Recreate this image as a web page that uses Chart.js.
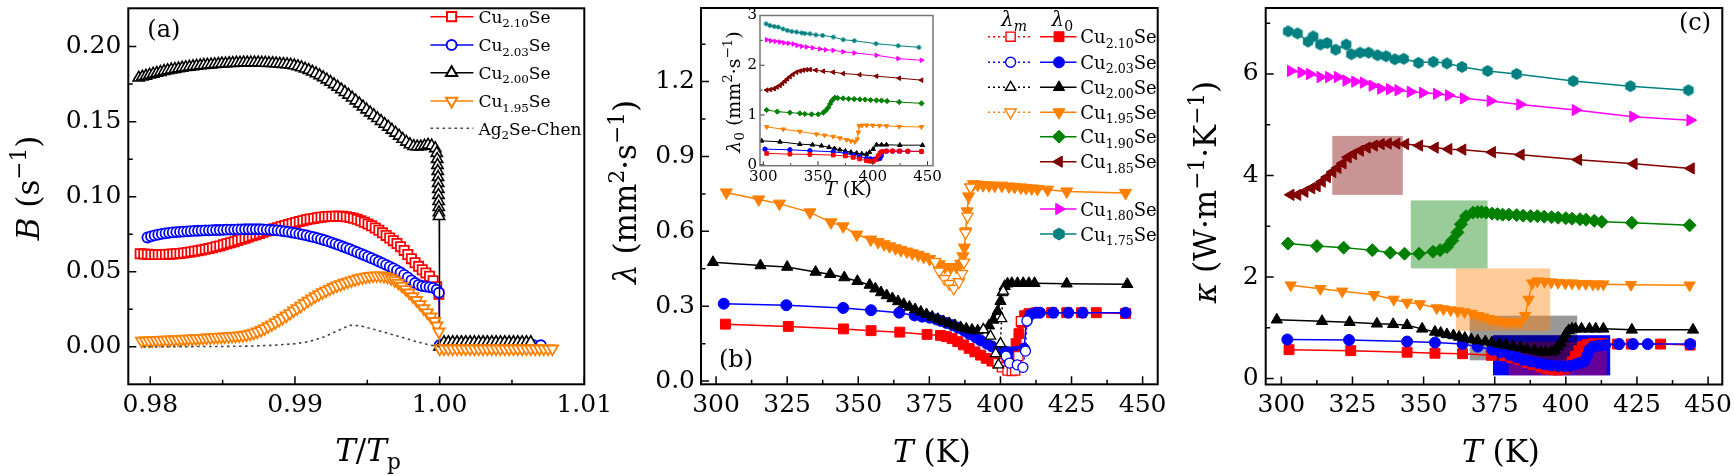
<!DOCTYPE html>
<html><head><meta charset="utf-8">
<script src="https://cdn.jsdelivr.net/npm/chart.js@4.4.1/dist/chart.umd.min.js"></script>
<style>
html,body{margin:0;padding:0;background:#fff;width:1734px;height:476px;overflow:hidden}
canvas{position:absolute;top:0}
</style></head><body>
<canvas id="cA" width="640" height="476" style="left:0px"></canvas>
<canvas id="cB" width="600" height="476" style="left:600px"></canvas>
<canvas id="cI" width="260" height="205" style="left:700px"></canvas>
<canvas id="cC" width="554" height="476" style="left:1180px"></canvas>
<script>
// ===================== DATA =====================
// Panel (a): B (s^-1) vs T/Tp
const aRedX = [0.9793,0.97955,0.9798,0.98005,0.9803,0.98055,0.9808,0.98105,0.9813,0.98155,0.9818,0.98205,0.9823,0.98255,0.9828,0.98305,0.9833,0.98355,0.9838,0.98405,0.9843,0.98455,0.9848,0.98505,0.9853,0.98555,0.9858,0.98605,0.9863,0.98655,0.9868,0.98705,0.9873,0.98755,0.9878,0.98805,0.9883,0.98855,0.9888,0.98905,0.9893,0.98955,0.9898,0.99005,0.9903,0.99055,0.9908,0.99105,0.9913,0.99155,0.9918,0.99205,0.9923,0.99255,0.9928,0.99305,0.9933,0.99355,0.9938,0.99405,0.9943,0.99455,0.9948,0.99505,0.9953,0.99555,0.9958,0.99605,0.9963,0.99655,0.9968,0.99705,0.9973,0.99755,0.9978,0.99805,0.9983,0.99855,0.9988,0.99905,0.9993,0.99955,0.9998,0.99995,1.0000];
const aRedY = [0.0620,0.0618,0.0617,0.0615,0.0614,0.0614,0.0614,0.0615,0.0617,0.0618,0.0620,0.0622,0.0625,0.0628,0.0632,0.0636,0.0640,0.0644,0.0649,0.0654,0.0660,0.0666,0.0672,0.0679,0.0686,0.0693,0.0700,0.0708,0.0716,0.0723,0.0731,0.0739,0.0747,0.0755,0.0763,0.0771,0.0778,0.0786,0.0793,0.0801,0.0808,0.0815,0.0821,0.0828,0.0834,0.0840,0.0846,0.0851,0.0855,0.0859,0.0863,0.0866,0.0868,0.0869,0.0870,0.0870,0.0869,0.0866,0.0862,0.0856,0.0849,0.0840,0.0830,0.0818,0.0806,0.0791,0.0776,0.0759,0.0742,0.0725,0.0707,0.0688,0.0667,0.0642,0.0615,0.0587,0.0560,0.0536,0.0513,0.0492,0.0470,0.0440,0.0400,0.0350,0.0000];
const aBlueX = [0.9798,0.98005,0.9803,0.98055,0.9808,0.98105,0.9813,0.98155,0.9818,0.98205,0.9823,0.98255,0.9828,0.98305,0.9833,0.98355,0.9838,0.98405,0.9843,0.98455,0.9848,0.98505,0.9853,0.98555,0.9858,0.98605,0.9863,0.98655,0.9868,0.98705,0.9873,0.98755,0.9878,0.98805,0.9883,0.98855,0.9888,0.98905,0.9893,0.98955,0.9898,0.99005,0.9903,0.99055,0.9908,0.99105,0.9913,0.99155,0.9918,0.99205,0.9923,0.99255,0.9928,0.99305,0.9933,0.99355,0.9938,0.99405,0.9943,0.99455,0.9948,0.99505,0.9953,0.99555,0.9958,0.99605,0.9963,0.99655,0.9968,0.99705,0.9973,0.99755,0.9978,0.99805,0.9983,0.99855,0.9988,0.99905,0.9993,0.99955,0.9998,0.99995,1.0000,1.0005,1.0010,1.0015,1.0020,1.0025,1.0030,1.0035,1.0040,1.0045,1.0050,1.0055,1.0060,1.0065,1.0070];
const aBlueY = [0.0728,0.0736,0.0742,0.0747,0.0752,0.0756,0.0759,0.0762,0.0764,0.0766,0.0767,0.0769,0.0770,0.0772,0.0773,0.0774,0.0775,0.0776,0.0777,0.0778,0.0778,0.0779,0.0780,0.0781,0.0781,0.0782,0.0782,0.0783,0.0783,0.0783,0.0783,0.0783,0.0782,0.0781,0.0779,0.0777,0.0775,0.0772,0.0769,0.0765,0.0761,0.0757,0.0752,0.0747,0.0742,0.0736,0.0730,0.0724,0.0717,0.0710,0.0702,0.0694,0.0686,0.0677,0.0668,0.0659,0.0650,0.0640,0.0630,0.0620,0.0610,0.0600,0.0590,0.0579,0.0568,0.0557,0.0546,0.0534,0.0522,0.0509,0.0495,0.0479,0.0462,0.0443,0.0425,0.0413,0.0405,0.0401,0.0398,0.0392,0.0380,0.0360,0.0010,0.0010,0.0010,0.0010,0.0010,0.0010,0.0010,0.0010,0.0010,0.0010,0.0010,0.0010,0.0010,0.0010,0.0010];
const aBlackX = [0.9792,0.97945,0.9797,0.97995,0.9802,0.98045,0.9807,0.98095,0.9812,0.98145,0.9817,0.98195,0.9822,0.98245,0.9827,0.98295,0.9832,0.98345,0.9837,0.98395,0.9842,0.98445,0.9847,0.98495,0.9852,0.98545,0.9857,0.98595,0.9862,0.98645,0.9867,0.98695,0.9872,0.98745,0.9877,0.98795,0.9882,0.98845,0.9887,0.98895,0.9892,0.98945,0.9897,0.98995,0.9902,0.99045,0.9907,0.99095,0.9912,0.99145,0.9917,0.99195,0.9922,0.99245,0.9927,0.99295,0.9932,0.99345,0.9937,0.99395,0.9942,0.99445,0.9947,0.99495,0.9952,0.99545,0.9957,0.99595,0.9962,0.99645,0.9967,0.99695,0.9972,0.99745,0.9977,0.99795,0.9982,0.99845,0.9987,0.99895,0.9992,0.99945,0.9997,0.99980,0.99983,0.99985,0.99987,0.99989,0.99990,0.99991,0.99992,0.99993,0.99994,0.99995,0.99996,1.0000,1.0003,1.0006,1.0009,1.0012,1.0015,1.0018,1.0021,1.0024,1.0027,1.0030,1.0033,1.0036,1.0039,1.0042,1.0045,1.0048,1.0051,1.0054,1.0057,1.0060,1.0063];
const aBlackY = [0.1792,0.1799,0.1805,0.1812,0.1818,0.1824,0.1830,0.1836,0.1841,0.1846,0.1850,0.1854,0.1858,0.1862,0.1865,0.1868,0.1871,0.1874,0.1876,0.1878,0.1880,0.1882,0.1884,0.1886,0.1887,0.1889,0.1890,0.1891,0.1892,0.1893,0.1893,0.1893,0.1893,0.1893,0.1892,0.1891,0.1890,0.1889,0.1887,0.1885,0.1883,0.1881,0.1878,0.1874,0.1868,0.1861,0.1852,0.1843,0.1832,0.1821,0.1808,0.1795,0.1780,0.1764,0.1748,0.1731,0.1714,0.1696,0.1678,0.1659,0.1640,0.1620,0.1600,0.1580,0.1560,0.1541,0.1522,0.1503,0.1484,0.1465,0.1445,0.1425,0.1405,0.1384,0.1365,0.1348,0.1336,0.1333,0.1334,0.1339,0.1345,0.1340,0.1322,0.1290,0.1250,0.1210,0.1170,0.1130,0.1090,0.1050,0.1010,0.0970,0.0930,0.0895,0.0870,0.0000,0.0030,0.0030,0.0030,0.0030,0.0030,0.0030,0.0030,0.0030,0.0030,0.0030,0.0030,0.0030,0.0030,0.0030,0.0030,0.0030,0.0030,0.0030,0.0030,0.0030,0.0030];
const aOrangeX = [0.9794,0.97965,0.9799,0.98015,0.9804,0.98065,0.9809,0.98115,0.9814,0.98165,0.9819,0.98215,0.9824,0.98265,0.9829,0.98315,0.9834,0.98365,0.9839,0.98415,0.9844,0.98465,0.9849,0.98515,0.9854,0.98565,0.9859,0.98615,0.9864,0.98665,0.9869,0.98715,0.9874,0.98765,0.9879,0.98815,0.9884,0.98865,0.9889,0.98915,0.9894,0.98965,0.9899,0.99015,0.9904,0.99065,0.9909,0.99115,0.9914,0.99165,0.9919,0.99215,0.9924,0.99265,0.9929,0.99315,0.9934,0.99365,0.9939,0.99415,0.9944,0.99465,0.9949,0.99515,0.9954,0.99565,0.9959,0.99615,0.9964,0.99665,0.9969,0.99715,0.9974,0.99765,0.9979,0.99815,0.9984,0.99865,0.9989,0.99915,0.9994,0.99965,0.9998,0.99995,1.0000,1.0003,1.0006,1.0009,1.0012,1.0015,1.0018,1.0021,1.0024,1.0027,1.0030,1.0033,1.0036,1.0039,1.0042,1.0045,1.0048,1.0051,1.0054,1.0057,1.0060,1.0063,1.0066,1.0069,1.0072,1.0075,1.0078];
const aOrangeY = [0.0039,0.0040,0.0041,0.0042,0.0043,0.0044,0.0045,0.0046,0.0047,0.0048,0.0049,0.0050,0.0052,0.0053,0.0054,0.0055,0.0057,0.0058,0.0060,0.0061,0.0063,0.0064,0.0066,0.0067,0.0069,0.0070,0.0072,0.0074,0.0076,0.0080,0.0085,0.0092,0.0100,0.0110,0.0122,0.0135,0.0148,0.0162,0.0177,0.0192,0.0207,0.0223,0.0240,0.0256,0.0272,0.0289,0.0305,0.0320,0.0335,0.0349,0.0362,0.0374,0.0386,0.0397,0.0407,0.0416,0.0425,0.0433,0.0441,0.0448,0.0455,0.0461,0.0466,0.0470,0.0473,0.0474,0.0474,0.0471,0.0465,0.0455,0.0442,0.0425,0.0405,0.0383,0.0360,0.0335,0.0310,0.0283,0.0255,0.0228,0.0200,0.0170,0.0140,0.0100,-0.0013,-0.0013,-0.0013,-0.0013,-0.0013,-0.0013,-0.0013,-0.0013,-0.0013,-0.0013,-0.0013,-0.0013,-0.0013,-0.0013,-0.0013,-0.0013,-0.0013,-0.0013,-0.0013,-0.0013,-0.0013,-0.0013,-0.0013,-0.0013,-0.0013,-0.0013,-0.0013];
const aChenX = [0.9795,0.9820,0.9850,0.9870,0.9885,0.9900,0.9910,0.9920,0.9930,0.9938,0.9945,0.9955,0.9965,0.9975,0.9985,0.9993,1.0000];
const aChenY = [0.0000,0.0001,0.0002,0.0005,0.0010,0.0020,0.0035,0.0065,0.0110,0.0143,0.0140,0.0115,0.0088,0.0060,0.0032,0.0012,0.0000];
const aXTicks = [0.98,0.99,1.00,1.01];
const aYTicks = [0.00,0.05,0.10,0.15,0.20];

// Panel (b): lambda (mm^2 s^-1) vs T (K); lambda0 filled, lambda_m open
const bRedX = [303.3,325.4,344.8,354.5,364.6,374.2,378.9,381,383,385,387,389,391,393,395,397,399,401,402.5,403.5,404.5,405.5,406.5,407.5,408.5,410,412.6,418,423.3,428.5,433.7,444];
const bRedY = [0.228,0.219,0.209,0.202,0.196,0.187,0.183,0.178,0.170,0.158,0.145,0.131,0.117,0.104,0.091,0.080,0.072,0.066,0.070,0.085,0.115,0.150,0.190,0.235,0.262,0.270,0.274,0.274,0.274,0.274,0.274,0.271];
const bRedMX = [399,400.5,402.5,404,405.2,406.3,407.2];
const bRedMY = [0.072,0.055,0.042,0.040,0.042,0.100,0.240];
const bBlueX = [302.7,324.7,344.7,354.5,364.4,369.8,372.5,375.1,377.5,379.1,381,383.2,385,387.2,389,391.2,393,395.2,397,399.2,401,402.5,404,405.5,407,408.3,409.2,410.6,412.6,413.9,418.6,423.9,428.9,444];
const bBlueY = [0.310,0.304,0.293,0.284,0.274,0.263,0.258,0.254,0.247,0.241,0.233,0.224,0.214,0.202,0.189,0.176,0.163,0.150,0.139,0.128,0.120,0.116,0.114,0.116,0.122,0.130,0.241,0.267,0.274,0.274,0.274,0.274,0.274,0.274];
const bBlueMX = [402,403.2,405.9,407.9,408.8,409.3];
const bBlueMY = [0.100,0.072,0.065,0.055,0.120,0.241];
const bBlackX = [298.9,315.6,325,335,340.1,345.1,349.7,354,356,358,360,362,364,366,368,370,372,374,376,378,380,382,384,386,388,390,392,394,396,397.5,399,400,400.7,401.5,402.5,404,406,408,410,412,423.3,444.6];
const bBlackY = [0.476,0.463,0.457,0.437,0.428,0.415,0.400,0.385,0.370,0.355,0.343,0.331,0.319,0.308,0.297,0.287,0.277,0.267,0.257,0.248,0.239,0.231,0.223,0.215,0.209,0.205,0.202,0.206,0.222,0.245,0.280,0.320,0.355,0.380,0.390,0.392,0.392,0.392,0.392,0.392,0.390,0.388];
const bBlackMX = [394,396.5,398.3,399.3,400.0,400.4,401.0];
const bBlackMY = [0.206,0.180,0.110,0.065,0.150,0.250,0.360];
const bOrangeX = [303.6,315,322.3,333,340.4,344.7,349.5,354.4,357,359.1,361,363.1,365,367.1,369,371.1,373,375.1,377,378.5,380.5,382.5,384.5,386,386.8,387.3,387.8,388.3,388.8,389.5,390.5,392,393.9,396,398,400.5,403,405,407.2,409,411,413,416.6,423.3,444];
const bOrangeY = [0.756,0.728,0.711,0.676,0.636,0.620,0.587,0.567,0.557,0.548,0.540,0.532,0.525,0.519,0.512,0.506,0.498,0.489,0.478,0.468,0.457,0.455,0.457,0.470,0.500,0.535,0.600,0.680,0.740,0.776,0.789,0.787,0.785,0.784,0.783,0.783,0.780,0.778,0.776,0.774,0.772,0.770,0.767,0.760,0.754];
const bOrangeMX = [377,378.5,380.3,382,383.6,385.4,386.5,387.2,387.7,388.4,389.5];
const bOrangeMY = [0.478,0.440,0.410,0.390,0.371,0.397,0.430,0.476,0.594,0.660,0.776];
const bXTicks = [300,325,350,375,400,425,450];
const bYTicks = [0.0,0.3,0.6,0.9,1.2];

// Inset of (b): lambda0 for all compositions
const iTealX = [302.5,306,310,313.7,318,321.9,326,330.4,335,338,342.6,348,354.2,363.9,373,383.1,402.9,423.2,442.1];
const iTealY = [2.833,2.80,2.78,2.767,2.73,2.70,2.68,2.667,2.65,2.64,2.633,2.61,2.60,2.567,2.513,2.493,2.433,2.393,2.36];
const iMagX = [303.1,307,311,315.2,319,323,327.4,331,335,339.6,345,351.7,357,363.9,373,383.1,403.4,423.2,444.5];
const iMagY = [2.513,2.49,2.48,2.467,2.45,2.44,2.427,2.40,2.38,2.367,2.35,2.327,2.31,2.30,2.27,2.247,2.20,2.133,2.10];
const iBrnX = [303.1,306.5,309.8,312.5,315.2,317.5,319.8,322,324.3,327,330.4,333.5,336.5,339.5,342.6,348,354.8,363.9,373,388,403.4,424.1,444.5];
const iBrnY = [1.50,1.51,1.527,1.56,1.593,1.635,1.68,1.725,1.767,1.815,1.86,1.885,1.90,1.91,1.913,1.90,1.88,1.86,1.833,1.81,1.78,1.74,1.70];
const iGrnX = [303.1,312.8,324.3,333.4,338,344.1,350.2,354.8,357,359.3,361,362.4,364,365.4,368,373,378,383,388.2,393,398,403.4,408,413,424.1,444.5];
const iGrnY = [1.10,1.067,1.047,1.033,1.02,1.013,1.013,1.047,1.09,1.147,1.22,1.28,1.32,1.347,1.34,1.333,1.325,1.32,1.313,1.31,1.30,1.293,1.29,1.28,1.26,1.233];
const iOrgX = [303.1,318.2,333.4,348.6,356,363.9,370,376,380,383.6,385.8,386.8,387.6,390,394.3,400,406,412.5,424.1,444.5];
const iOrgY = [0.76,0.713,0.667,0.613,0.59,0.567,0.535,0.50,0.475,0.46,0.513,0.65,0.78,0.79,0.793,0.79,0.785,0.78,0.767,0.76];
const iBlkX = [298.5,315.2,333.4,345,353.2,360,365,369.9,375,380,385.2,390,394.3,397,400.4,403.4,408,412.5,424.7,445.4];
const iBlkY = [0.48,0.46,0.413,0.40,0.38,0.35,0.325,0.30,0.275,0.252,0.233,0.22,0.213,0.25,0.313,0.40,0.40,0.40,0.393,0.393];
const iBluX = [301.6,324.3,342.6,363.9,375,382.1,388,394.3,398,401.9,404.5,406.5,407.8,408.9,412.5,418,424.7,432,444.5];
const iBluY = [0.313,0.30,0.28,0.26,0.23,0.193,0.16,0.127,0.118,0.113,0.115,0.127,0.18,0.26,0.273,0.273,0.273,0.27,0.267];
const iRedX = [303.1,324.3,342.6,363.9,375,382.1,388,394.3,397.5,400.4,403,404.9,406.5,407.9,412.5,418,424,432,444.5];
const iRedY = [0.227,0.213,0.207,0.193,0.175,0.147,0.115,0.08,0.07,0.067,0.10,0.18,0.23,0.26,0.273,0.273,0.273,0.27,0.267];
const iXTicks = [300,350,400,450];
const iYTicks = [0,1,2,3];

// Panel (c): kappa (W m^-1 K^-1) vs T (K)
const cTealX = [302.4,305.7,309.4,311.2,313.7,316.1,319.1,322.8,324.6,327.7,330.7,333.8,336.8,339.9,343.0,348.2,353.4,358.2,363.5,372.5,382.7,402.6,422.7,443.1];
const cTealY = [6.84,6.80,6.64,6.74,6.58,6.61,6.48,6.58,6.39,6.42,6.42,6.37,6.35,6.29,6.30,6.22,6.24,6.21,6.14,6.06,6.00,5.86,5.76,5.68];
const cMagX = [303.3,307.0,310.0,313.7,316.7,319.8,322.8,325.9,328.9,332.0,335.0,338.1,341.1,345.4,349.7,354.6,358.8,364.1,373.5,383.9,403.4,423.6,443.7];
const cMagY = [6.06,6.03,6.00,5.94,5.94,5.94,5.87,5.85,5.83,5.77,5.71,5.70,5.68,5.65,5.63,5.61,5.58,5.52,5.47,5.40,5.29,5.16,5.09];
const cBrnX = [303.3,305.7,308.2,310.6,312.5,314.3,316.1,318.0,319.8,321.6,323.4,325.3,327.7,330.1,332.6,335.0,337.5,340.5,343.6,348.5,354.0,358.8,363.7,374.1,384.2,404.4,423.9,444.0];
const cBrnY = [3.62,3.62,3.68,3.75,3.79,3.88,3.97,4.07,4.15,4.24,4.36,4.42,4.49,4.55,4.59,4.62,4.63,4.63,4.62,4.59,4.55,4.52,4.51,4.46,4.41,4.31,4.23,4.14];
const cGrnX = [302.3,312.5,321.9,332.0,338.3,343.3,348.4,353.3,355.8,358.2,360.1,361.9,363.1,364.9,367.4,369,370.4,372,374.1,376,377.8,380,382.7,385,387.6,390,392.4,395,397.3,400,402.2,405,407.1,410,412.6,423.2,443.5];
const cGrnY = [2.66,2.61,2.58,2.53,2.48,2.46,2.46,2.50,2.53,2.59,2.72,2.88,3.04,3.20,3.27,3.28,3.28,3.27,3.25,3.24,3.23,3.23,3.22,3.21,3.20,3.20,3.19,3.18,3.17,3.16,3.15,3.14,3.13,3.11,3.09,3.07,3.02];
const cOrgX = [303.3,313.7,321.4,332.6,339.5,344.2,348.7,354.6,357,359.5,362,364.4,367,369.2,371,372.9,374.8,376.6,378.4,380.2,382,383.9,385.7,386.9,388.2,390.0,392.5,394.9,397.3,399.8,402.2,404.6,407,409.5,411.3,413.2,422.9,443.5];
const cOrgY = [1.84,1.77,1.72,1.65,1.56,1.50,1.47,1.39,1.37,1.35,1.33,1.31,1.28,1.24,1.21,1.18,1.15,1.13,1.12,1.11,1.11,1.11,1.24,1.56,1.88,1.92,1.91,1.90,1.89,1.88,1.88,1.87,1.87,1.86,1.86,1.86,1.85,1.84];
const cBlkX = [298.4,314.3,324.0,333.6,339.3,344.2,349.5,354.0,356,358.2,360.5,362.5,364.5,366.8,369,371.7,374,376.6,379,381.4,384,386.3,389,391.2,393,394.9,396.2,397.3,398.2,399.1,400,401.0,402.2,403.4,405.5,408.3,410.5,413.2,423.2,444.7];
const cBlkY = [1.16,1.13,1.11,1.08,1.07,1.05,0.98,0.92,0.90,0.87,0.85,0.82,0.80,0.77,0.75,0.73,0.71,0.68,0.66,0.63,0.61,0.58,0.555,0.53,0.525,0.53,0.56,0.63,0.70,0.79,0.88,0.95,0.98,0.98,0.98,0.98,0.98,0.98,0.96,0.96];
const cBluX = [302.1,323.8,344.2,354.0,363.7,369,374.1,377,380.2,382.7,385.1,387.5,390.0,392.5,394.9,397.3,399.8,401.6,403.4,405,406.5,407.5,408.3,409.5,411.5,413.8,418.7,423.6,428.8,443.7];
const cBluY = [0.77,0.76,0.73,0.71,0.68,0.63,0.57,0.52,0.47,0.42,0.37,0.34,0.31,0.28,0.26,0.25,0.24,0.25,0.28,0.31,0.34,0.45,0.57,0.63,0.65,0.66,0.68,0.68,0.68,0.68];
const cRedX = [302.7,324.4,344.2,354.0,363.7,373.8,378.3,381,383.9,386.3,388.7,391.2,393.6,395.5,397.3,399.2,401.0,402.2,403.4,404.6,405.9,407.5,409.5,413,418.1,423,433.3,443.7];
const cRedY = [0.57,0.55,0.52,0.50,0.49,0.46,0.45,0.41,0.37,0.32,0.28,0.23,0.19,0.175,0.17,0.19,0.24,0.33,0.44,0.55,0.63,0.67,0.69,0.69,0.68,0.68,0.68,0.66];
// highlighted transition ranges in (c), data units (T from..to, kappa from..to)
const cBoxT0 = [374.4,379.9,366.2,361.3,345.5,317.9];
const cBoxT1 = [415.6,414.4,404.0,394.5,372.5,342.7];
const cBoxK0 = [0.064,0.064,0.36,0.94,2.17,3.62];
const cBoxK1 = [0.855,0.725,1.24,2.17,3.51,4.78];
const cXTicks = [300,325,350,375,400,425,450];
const cYTicks = [0,2,4,6];

// Legend labels
const compB = ['2.10','2.03','2.00','1.95','1.90','1.85','1.80','1.75'];

// ===================== STYLE / HELPERS =====================
const FONT = 'DejaVu Serif';
Chart.defaults.font.family = FONT;
Chart.defaults.color = '#000';
const COL = {red:'#ff0000', blue:'#0000ff', black:'#000000', orange:'#ff8000', green:'#008000', brown:'#800000', magenta:'#ff00ff', teal:'#008080', chen:'#444444'};
const BOXCOL = ['rgb(0,0,255)','rgba(255,0,0,0.4)','rgba(0,0,0,0.4)','rgba(255,128,0,0.4)','rgba(0,128,0,0.4)','rgba(128,0,0,0.42)'];

function zip(xs, ys){ const n=Math.min(xs.length, ys.length), o=[]; for(let i=0;i<n;i++) o.push({x:xs[i], y:ys[i]}); return o; }
function hexImg(r, color){
  const s = Math.ceil(2*r+2), c = document.createElement('canvas'); c.width=c.height=s;
  const g = c.getContext('2d'); g.fillStyle=color; g.beginPath();
  for(let k=0;k<6;k++){ const a=-Math.PI/2+k*Math.PI/3; const px=s/2+r*Math.cos(a), py=s/2+r*Math.sin(a); k?g.lineTo(px,py):g.moveTo(px,py); }
  g.closePath(); g.fill(); return c;
}
const PS = {rect:['rect',0], circle:['circle',0], tu:['triangle',0], td:['triangle',180], tl:['triangle',270], tr:['triangle',90], diamond:['rectRot',0]};
function series(xs, ys, s){
  let ps, rot=0;
  if (s.mk==='hex') ps = hexImg(s.r, s.color); else [ps, rot] = PS[s.mk];
  let radii = s.r;
  if (s.noMarkLast) { radii = zip(xs,ys).map((_,i,arr)=> i===arr.length-1 ? 0 : s.r); }
  return { data: zip(xs, ys), borderColor: s.color, borderWidth: s.lw, borderDash: s.dash||[],
    pointStyle: ps, rotation: rot, pointRadius: radii, pointHoverRadius: s.r,
    pointBorderWidth: s.open ? s.pw : 1, pointBorderColor: s.color,
    pointBackgroundColor: s.open ? '#ffffff' : s.color, fill:false, tension:0, showLine: s.line!==false };
}
function drawMarker(ctx, style, x, y, r, fill, stroke, lw){
  ctx.save(); ctx.beginPath(); ctx.setLineDash([]);
  const tri = rot => { let a=rot*Math.PI/180; for(let k=0;k<3;k++){ const px=x+Math.sin(a)*r, py=y-Math.cos(a)*r; k?ctx.lineTo(px,py):ctx.moveTo(px,py); a+=2*Math.PI/3; } ctx.closePath(); };
  switch(style){
    case 'rect': { const s=r*Math.SQRT1_2; ctx.rect(x-s,y-s,2*s,2*s); break; }
    case 'circle': ctx.arc(x,y,r,0,2*Math.PI); break;
    case 'tu': tri(0); break; case 'td': tri(180); break; case 'tl': tri(270); break; case 'tr': tri(90); break;
    case 'diamond': ctx.moveTo(x,y-r); ctx.lineTo(x+r,y); ctx.lineTo(x,y+r); ctx.lineTo(x-r,y); ctx.closePath(); break;
    case 'hex': for(let k=0;k<6;k++){ const a=-Math.PI/2+k*Math.PI/3; const px=x+r*Math.cos(a), py=y+r*Math.sin(a); k?ctx.lineTo(px,py):ctx.moveTo(px,py);} ctx.closePath(); break;
  }
  if(fill){ ctx.fillStyle=fill; ctx.fill(); }
  if(stroke){ ctx.strokeStyle=stroke; ctx.lineWidth=lw; ctx.stroke(); }
  ctx.restore();
}
// rich text: segs = [[text, style]], style in r | i | sup | sub | isub
function rich(ctx, segs, x, y, size, rotate, align){
  ctx.save(); ctx.translate(x, y); if (rotate) ctx.rotate(-Math.PI/2);
  const fontFor = s => { const small = s.includes('sup')||s.includes('sub'); return (s.indexOf('i')===0?'italic ':'') + (small? size*0.7 : size) + 'px "' + FONT + '"'; };
  let w = 0; for (const [t,s] of segs){ ctx.font = fontFor(s); w += ctx.measureText(t).width; }
  let cx = align==='left' ? 0 : align==='right' ? -w : -w/2;
  ctx.textBaseline='alphabetic'; ctx.textAlign='left'; ctx.fillStyle='#000';
  for (const [t,s] of segs){ ctx.font = fontFor(s); const dy = s.includes('sup') ? -size*0.40 : s.includes('sub') ? size*0.25 : 0; ctx.fillText(t, cx, dy); cx += ctx.measureText(t).width; }
  ctx.restore();
}
function decoPlugin(cfg){
  return { id:'deco',
    beforeDraw(chart){ if (cfg.bg){ const a=chart.chartArea, c=chart.ctx; c.save(); c.fillStyle='#fff'; c.fillRect(a.left,a.top,a.right-a.left,a.bottom-a.top); c.restore(); } },
    beforeDatasetsDraw(chart){ if (cfg.before) cfg.before(chart); },
    afterDraw(chart){
      const ctx=chart.ctx, a=chart.chartArea, x=chart.scales.x, y=chart.scales.y;
      ctx.save(); ctx.setLineDash([]);
      ctx.strokeStyle=cfg.tickColor; ctx.lineWidth=cfg.tickW; ctx.beginPath();
      for (const v of cfg.xMaj){ const p=x.getPixelForValue(v); ctx.moveTo(p,a.bottom); ctx.lineTo(p,a.bottom-cfg.maj); }
      for (const v of cfg.xMin){ const p=x.getPixelForValue(v); ctx.moveTo(p,a.bottom); ctx.lineTo(p,a.bottom-cfg.min); }
      for (const v of cfg.yMaj){ const p=y.getPixelForValue(v); ctx.moveTo(a.left,p); ctx.lineTo(a.left+cfg.maj,p); }
      for (const v of cfg.yMin){ const p=y.getPixelForValue(v); ctx.moveTo(a.left,p); ctx.lineTo(a.left+cfg.min,p); }
      ctx.stroke();
      ctx.strokeStyle=cfg.frameColor; ctx.lineWidth=cfg.frameW;
      ctx.strokeRect(a.left,a.top,a.right-a.left,a.bottom-a.top);
      ctx.restore();
      if (cfg.after) cfg.after(chart);
    } };
}
function makeChart(id, W, H, area, xr, yr, xTicks, yTicks, xFmt, yFmt, tickSize, xPad, yPad, datasets, deco){
  const zeroPad = s => { s.paddingLeft=0; s.paddingRight=0; s.paddingTop=0; s.paddingBottom=0; };
  return new Chart(document.getElementById(id), {
    type:'line', data:{datasets},
    options:{ responsive:false, animation:false, devicePixelRatio:1, events:[],
      layout:{padding:{left:0, top:area.top, right:W-area.right, bottom:0}},
      plugins:{legend:{display:false}, tooltip:{enabled:false}},
      scales:{
        x:{ type:'linear', position:'bottom', min:xr[0], max:xr[1],
            afterBuildTicks: s => { s.ticks = xTicks.map(v=>({value:v})); },
            ticks:{ callback: v => xFmt(v), font:{family:FONT, size:tickSize}, color:'#000', padding:xPad, maxRotation:0, minRotation:0, autoSkip:false },
            grid:{display:false, drawTicks:false}, border:{display:false},
            afterFit: s => { s.height = H-area.bottom; zeroPad(s); } },
        y:{ type:'linear', position:'left', min:yr[0], max:yr[1],
            afterBuildTicks: s => { s.ticks = yTicks.map(v=>({value:v})); },
            ticks:{ callback: v => yFmt(v), font:{family:FONT, size:tickSize}, color:'#000', padding:yPad, autoSkip:false },
            grid:{display:false, drawTicks:false}, border:{display:false},
            afterFit: s => { s.width = area.left; zeroPad(s); } }
      } },
    plugins:[decoPlugin(deco)]
  });
}
function cuLabel(comp){ return [['Cu','r'],[comp,'sub'],['Se','r']]; }

// ===================== PANEL (a) =====================
(function(){
  const OX=0, W=640, H=476, area={left:128.3, right:584.3, top:1, bottom:384.3};
  const A = {red:{color:COL.red,mk:'rect',r:6.5,open:true,pw:1.8,lw:1.2,noMarkLast:true},
             blue:{color:COL.blue,mk:'circle',r:5,open:true,pw:1.8,lw:1.2},
             black:{color:COL.black,mk:'tu',r:6.5,open:true,pw:1.6,lw:1.2},
             orange:{color:COL.orange,mk:'td',r:6.5,open:true,pw:1.8,lw:1.2}};
  const ds = [
    Object.assign(series(aChenX,aChenY,{color:COL.chen,mk:'circle',r:0,lw:1.6,dash:[2.5,3.5]}), {pointRadius:0}),
    series(aOrangeX,aOrangeY,A.orange),
    series(aBlackX,aBlackY,A.black),
    series(aBlueX,aBlueY,A.blue),
    series(aRedX,aRedY,A.red)
  ];
  const legend = [[A.red,'2.10'],[A.blue,'2.03'],[A.black,'2.00'],[A.orange,'1.95']];
  const rowsY = [16.7,45,72.7,101,128.3];
  const LF = 17;
  makeChart('cA', W, H, area, [0.97848,1.01], [-0.025,0.2255], aXTicks, aYTicks, v=>v.toFixed(2), v=>v.toFixed(2), 25, 6, 7, ds, {
    tickColor:'#000', tickW:1.5, frameColor:'#000', frameW:2, maj:8, min:4.5,
    xMaj:aXTicks, xMin:[0.985,0.995,1.005], yMaj:aYTicks, yMin:[0.025,0.075,0.125,0.175],
    after(chart){
      const ctx=chart.ctx;
      legend.forEach(([st,comp],i)=>{
        const yy=rowsY[i];
        ctx.save(); ctx.strokeStyle=st.color; ctx.lineWidth=1.5; ctx.beginPath(); ctx.moveTo(430.5-OX,yy); ctx.lineTo(473.4-OX,yy); ctx.stroke(); ctx.restore();
        drawMarker(ctx, st.mk, 451.6-OX, yy, st.r, '#fff', st.color, 2);
        rich(ctx, cuLabel(comp), 478.4-OX, yy+6.4, LF, false, 'left');
      });
      const yy=rowsY[4];
      ctx.save(); ctx.strokeStyle=COL.chen; ctx.lineWidth=1.6; ctx.setLineDash([2.5,3.5]); ctx.beginPath(); ctx.moveTo(430.5-OX,yy); ctx.lineTo(473.4-OX,yy); ctx.stroke(); ctx.restore();
      rich(ctx, [['Ag','r'],['2','sub'],['Se-Chen','r']], 478.4-OX, yy+6.4, LF, false, 'left');
      rich(ctx, [['(a)','r']], 147.3-OX, 36.9, 24, false, 'left');
      rich(ctx, [['T','i'],['/','r'],['T','i'],['p','sub']], 368-OX, 461, 31, false, 'center');
      rich(ctx, [['B','i'],[' (s','r'],['−1','sup'],[')','r']], 38.5-OX, 188, 31, true, 'center');
    }
  });
})();

// ===================== PANEL (b) =====================
(function(){
  const OX=600, W=600, H=476, area={left:101, right:557.7, top:1, bottom:384.3};
  const F = {red:{color:COL.red,mk:'rect',r:7,lw:1.5}, blue:{color:COL.blue,mk:'circle',r:5.5,lw:1.5},
             black:{color:COL.black,mk:'tu',r:6.5,lw:1.5}, orange:{color:COL.orange,mk:'td',r:7,lw:1.5},
             green:{color:COL.green,mk:'diamond',r:6.5,lw:1.5}, brown:{color:COL.brown,mk:'tl',r:6.5,lw:1.5},
             magenta:{color:COL.magenta,mk:'tr',r:6.5,lw:1.5}, teal:{color:COL.teal,mk:'hex',r:6,lw:1.5}};
  const M = k => Object.assign({}, F[k], {open:true, pw:1.3, r:F[k].r-0.5, dash:[2,3], lw:1.5});
  const ds = [
    series(bOrangeMX,bOrangeMY,M('orange')),
    series(bBlackMX,bBlackMY,M('black')),
    series(bBlueMX,bBlueMY,M('blue')),
    series(bRedMX,bRedMY,M('red')),
    series(bOrangeX,bOrangeY,F.orange),
    series(bBlackX,bBlackY,F.black),
    series(bBlueX,bBlueY,F.blue),
    series(bRedX,bRedY,F.red)
  ];
  const keys = ['red','blue','black','orange','green','brown','magenta','teal'];
  const rowsY = [36.7,62.3,87.3,112.3,136.7,161.7,209,234];
  makeChart('cB', W, H, area, [294.7,455.3], [-0.013,1.495], bXTicks, bYTicks, v=>String(Math.round(v)), v=>v.toFixed(1), 25, 6, 6, ds, {
    tickColor:'#000', tickW:1.5, frameColor:'#000', frameW:2, maj:8, min:4.5,
    xMaj:bXTicks, xMin:[312.5,337.5,362.5,387.5,412.5,437.5], yMaj:bYTicks, yMin:[0.15,0.45,0.75,1.05,1.35],
    after(chart){
      const ctx=chart.ctx;
      rich(ctx, [['λ','i'],['m','isub']], 1001-OX, 26, 20, false, 'left');
      rich(ctx, [['λ','i'],['0','sub']], 1051.6-OX, 26, 20, false, 'left');
      keys.forEach((k,i)=>{
        const st=F[k], yy=rowsY[i];
        if (i<4){
          ctx.save(); ctx.strokeStyle=st.color; ctx.lineWidth=1.5; ctx.setLineDash([2,3]); ctx.beginPath(); ctx.moveTo(988-OX,yy); ctx.lineTo(1030.5-OX,yy); ctx.stroke(); ctx.restore();
          drawMarker(ctx, st.mk, 1010.6-OX, yy, st.r-0.5, '#fff', st.color, 1.4);
        }
        ctx.save(); ctx.strokeStyle=st.color; ctx.lineWidth=1.5; ctx.beginPath(); ctx.moveTo(1040-OX,yy); ctx.lineTo(1076.5-OX,yy); ctx.stroke(); ctx.restore();
        drawMarker(ctx, st.mk, 1059-OX, yy, st.r, st.color, st.color, 1);
        rich(ctx, cuLabel(compB[i]), 1080.3-OX, yy+6.6, 18, false, 'left');
      });
      rich(ctx, [['(b)','r']], 719-OX, 366.9, 24, false, 'left');
      rich(ctx, [['T','i'],[' (K)','r']], 932-OX, 461.7, 31, false, 'center');
      rich(ctx, [['λ','i'],[' (mm','r'],['2','sup'],['·s','r'],['−1','sup'],[')','r']], 636-OX, 192, 31, true, 'center');
    }
  });
})();

// ===================== INSET of (b) =====================
(function(){
  const OX=700, W=260, H=205, area={left:60, right:233, top:15.5, bottom:165.7};
  const s = (c,mk,r) => ({color:c, mk, r, lw:1});
  const ds = [
    series(iRedX,iRedY,s(COL.red,'rect',2.6)),
    series(iBluX,iBluY,s(COL.blue,'circle',2.2)),
    series(iBlkX,iBlkY,s(COL.black,'tu',2.6)),
    series(iOrgX,iOrgY,s(COL.orange,'td',2.6)),
    series(iGrnX,iGrnY,s(COL.green,'diamond',2.6)),
    series(iBrnX,iBrnY,s(COL.brown,'tl',2.6)),
    series(iMagX,iMagY,s(COL.magenta,'tr',2.6)),
    series(iTealX,iTealY,s(COL.teal,'hex',2.4))
  ];
  makeChart('cI', W, H, area, [297,455], [-0.02,3.0], iXTicks, iYTicks, v=>String(Math.round(v)), v=>String(Math.round(v)), 15, 2, 3, ds, {
    bg:true, tickColor:'#333', tickW:1, frameColor:'#777', frameW:1.5, maj:4.5, min:2.5,
    xMaj:iXTicks, xMin:[325,375,425], yMaj:iYTicks, yMin:[0.5,1.5,2.5],
    after(chart){
      const ctx=chart.ctx;
      rich(ctx, [['T','i'],[' (K)','r']], 848-OX, 195, 19, false, 'center');
      rich(ctx, [['λ','i'],['0','sub'],[' (mm','r'],['2','sup'],['·s','r'],['−1','sup'],[')','r']], 739.5-OX, 92, 19, true, 'center');
    }
  });
})();

// ===================== PANEL (c) =====================
(function(){
  const OX=1180, W=554, H=476, area={left:85.7, right:542.3, top:1, bottom:384.5};
  const ds = [
    series(cBlkX,cBlkY,{color:COL.black,mk:'tu',r:6.5,lw:1.5}),
    series(cBluX,cBluY,{color:COL.blue,mk:'circle',r:5.5,lw:1.5}),
    series(cRedX,cRedY,{color:COL.red,mk:'rect',r:7,lw:1.5}),
    series(cOrgX,cOrgY,{color:COL.orange,mk:'td',r:6.5,lw:1.5}),
    series(cGrnX,cGrnY,{color:COL.green,mk:'diamond',r:6.5,lw:1.5}),
    series(cBrnX,cBrnY,{color:COL.brown,mk:'tl',r:6.5,lw:1.5}),
    series(cMagX,cMagY,{color:COL.magenta,mk:'tr',r:6.5,lw:1.5}),
    series(cTealX,cTealY,{color:COL.teal,mk:'hex',r:6,lw:1.5})
  ];
  makeChart('cC', W, H, area, [294.5,455.0], [-0.116,7.3], cXTicks, cYTicks, v=>String(Math.round(v)), v=>String(Math.round(v)), 25, 6, 7, ds, {
    tickColor:'#000', tickW:1.5, frameColor:'#000', frameW:2, maj:8, min:4.5,
    xMaj:cXTicks, xMin:[312.5,337.5,362.5,387.5,412.5,437.5], yMaj:cYTicks, yMin:[1,3,5,7],
    before(chart){
      const ctx=chart.ctx, x=chart.scales.x, y=chart.scales.y;
      ctx.save();
      for (let i=0;i<cBoxT0.length;i++){
        const x0=x.getPixelForValue(cBoxT0[i]), x1=x.getPixelForValue(cBoxT1[i]);
        const y0=y.getPixelForValue(cBoxK1[i]), y1=y.getPixelForValue(cBoxK0[i]);
        ctx.fillStyle=BOXCOL[i]; ctx.fillRect(x0,y0,x1-x0,y1-y0);
      }
      ctx.restore();
    },
    after(chart){
      const ctx=chart.ctx;
      rich(ctx, [['(c)','r']], 1679-OX, 30, 24, false, 'left');
      rich(ctx, [['T','i'],[' (K)','r']], 1501-OX, 461.7, 31, false, 'center');
      rich(ctx, [['κ','i'],[' (W·m','r'],['−1','sup'],['·K','r'],['−1','sup'],[')','r']], 1216-OX, 192, 31, true, 'center');
    }
  });
})();
</script>
</body></html>
